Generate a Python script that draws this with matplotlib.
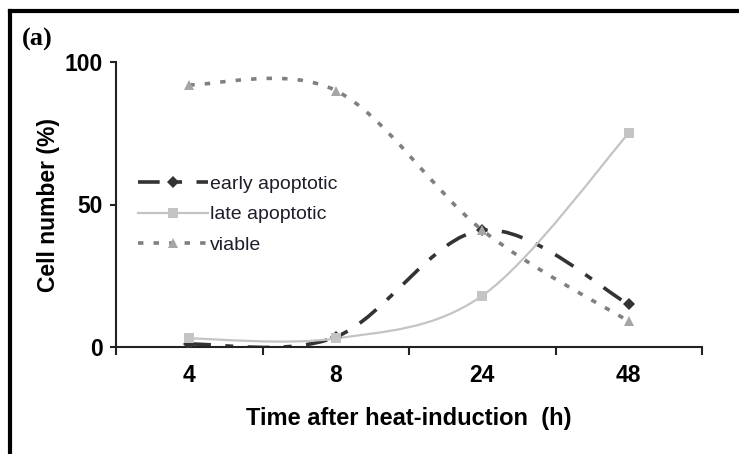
import matplotlib
matplotlib.use("Agg")
import matplotlib.pyplot as plt
import numpy as np
from matplotlib.path import Path
from matplotlib.patches import PathPatch
from matplotlib.lines import Line2D

plt.rcParams['font.family'] = ['Liberation Sans', 'DejaVu Sans']

# data
times = ['4', '8', '24', '48']
early = [1, 3.5, 41, 15]
late = [3, 3, 18, 75]
viable = [92, 90, 41, 9]


def smooth_path(xs, ys):
    # Excel-like smoothed line: Catmull-Rom converted to cubic Bezier segments
    p = np.column_stack([xs, ys]).astype(float)
    n = len(p)
    verts = [p[0]]
    codes = [Path.MOVETO]
    for i in range(n - 1):
        prev = p[i - 1] if i > 0 else p[i]
        nxt = p[i + 2] if i + 2 < n else p[i + 1]
        c1 = p[i] + (p[i + 1] - prev) / 6
        c2 = p[i + 1] - (nxt - p[i]) / 6
        verts += [c1, c2, p[i + 1]]
        codes += [Path.CURVE4] * 3
    return Path(verts, codes)


fig = plt.figure(figsize=(7.39, 4.54), dpi=100)
ax = fig.add_axes([116 / 739, 1 - 347 / 454, (702 - 116) / 739, (347 - 62) / 454])

x = np.arange(1, len(times) + 1)

styles = [
    (early, 'early apoptotic', '#333333', 2.6, (0, (6, 4, 2.2, 4)), 'D', '#333333', 6),
    (late, 'late apoptotic', '#c4c4c4', 1.6, '-', 's', '#c4c4c4', 6.5),
    (viable, 'viable', '#808080', 2.6, (0, (1.5, 2.8)), '^', '#a6a6a6', 7.5),
]

handles = []
for vals, name, col, lw, ls, mk, mcol, ms in styles:
    patch = PathPatch(smooth_path(x, vals), facecolor='none', edgecolor=col,
                      lw=lw, linestyle=ls, capstyle='butt', zorder=2)
    ax.add_patch(patch)
    ax.plot(x, vals, linestyle='none', marker=mk, color=mcol, ms=ms,
            markeredgewidth=0, zorder=3)
    handles.append(Line2D([], [], color=col, lw=lw, linestyle=ls, marker=mk,
                          markerfacecolor=mcol, markeredgewidth=0, ms=ms,
                          label=name))

ax.set_xlim(0.5, len(times) + 0.5)
ax.set_ylim(0, 100)
ax.set_xticks(x)
ax.set_xticklabels(times)
ax.set_xticks(np.arange(0.5, len(times) + 1, 1), minor=True)
ax.set_yticks([0, 50, 100])

for s in ['top', 'right']:
    ax.spines[s].set_visible(False)
for s in ['left', 'bottom']:
    ax.spines[s].set_linewidth(1.5)
    ax.spines[s].set_color('#222222')

ax.tick_params(axis='x', which='major', length=0, pad=12)
ax.tick_params(axis='x', which='minor', length=6, width=1.5, direction='out', color='#222222')
ax.tick_params(axis='y', length=4.5, width=1.5, pad=5, color='#222222')
tick_font = ['Liberation Sans Narrow', 'Liberation Sans', 'DejaVu Sans']
for lab in ax.get_xticklabels() + ax.get_yticklabels():
    lab.set_fontweight('bold')
    lab.set_family(tick_font)
    lab.set_fontsize(16.5)

ax.set_xlabel('Time after heat-induction  (h)', fontsize=17, fontweight='bold', labelpad=15)
ax.set_ylabel('Cell number (%)', fontsize=16.5, fontweight='bold', labelpad=3)

leg = fig.legend(handles=handles, loc='upper left', bbox_to_anchor=(138 / 739, 1 - 175 / 454),
                 frameon=False, fontsize=14, handlelength=3.6, handletextpad=0.1,
                 labelspacing=0.68, borderpad=0, borderaxespad=0, numpoints=1)
for t in leg.get_texts():
    t.set_color('#1e1e2a')

fig.text(37 / 739, 1 - 39 / 454, '(a)', family='Liberation Serif', fontweight='bold',
         fontsize=19, va='center', ha='center')

# panel frame (left and top edges)
fig.add_artist(Line2D([10 / 739, 10 / 739], [0, 1 - 11 / 454], transform=fig.transFigure,
                      color='black', lw=3, solid_capstyle='projecting'))
fig.add_artist(Line2D([10 / 739, 1], [1 - 11 / 454, 1 - 11 / 454], transform=fig.transFigure,
                      color='black', lw=3, solid_capstyle='projecting'))

fig.savefig('out.png', dpi=100)
